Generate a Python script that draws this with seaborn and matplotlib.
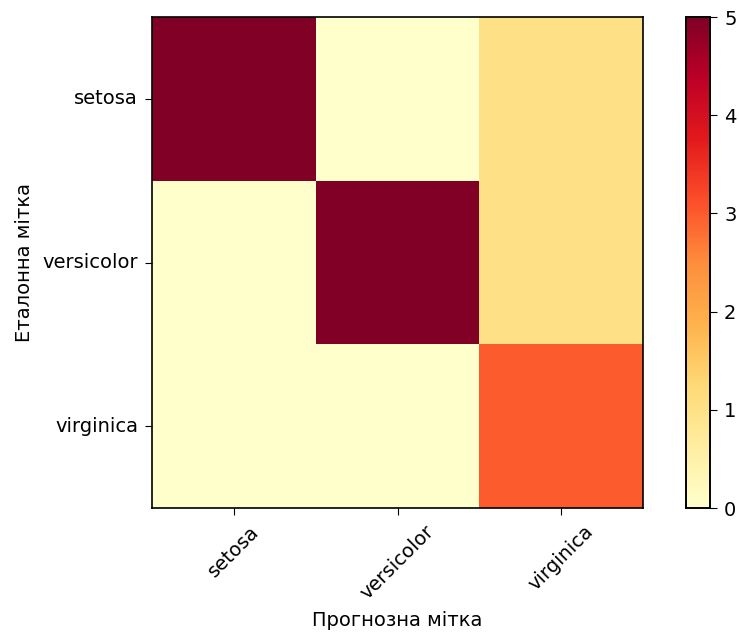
import numpy as np
import matplotlib
matplotlib.use("Agg")
import matplotlib.pyplot as plt
import seaborn as sns

# confusion matrix data
class_names = ["setosa", "versicolor", "virginica"]
row_setosa = [5, 0, 1]
row_versicolor = [0, 5, 1]
row_virginica = [0, 0, 3]

cm = np.array([row_setosa, row_versicolor, row_virginica])

fig = plt.figure(figsize=(7.39, 6.35), dpi=100)
ax = fig.add_axes([0.2057, 0.2, 0.6644, 0.7732])
cax = fig.add_axes([0.928, 0.2, 0.033, 0.7732])

sns.heatmap(cm, cmap="YlOrRd", vmin=0, vmax=5, ax=ax, cbar_ax=cax,
            square=False, xticklabels=class_names, yticklabels=class_names)

for s in ax.spines.values():
    s.set_visible(True)
    s.set_color("black")
    s.set_linewidth(1.2)
cax.set_frame_on(True)
for s in cax.spines.values():
    s.set_visible(True)
    s.set_color("black")
    s.set_linewidth(1.2)
cax.set_yticks([0, 1, 2, 3, 4, 5])
cax.tick_params(labelsize=14, length=5, pad=5)

ax.tick_params(labelsize=14, length=5, pad=5)
plt.setp(ax.get_xticklabels(), rotation=45, ha="center")
plt.setp(ax.get_yticklabels(), rotation=0)
ax.set_xlabel("Прогнозна мітка", fontsize=14, labelpad=6)
ax.set_ylabel("Еталонна мітка", fontsize=14, labelpad=6)

fig.savefig("out.png", dpi=100)
